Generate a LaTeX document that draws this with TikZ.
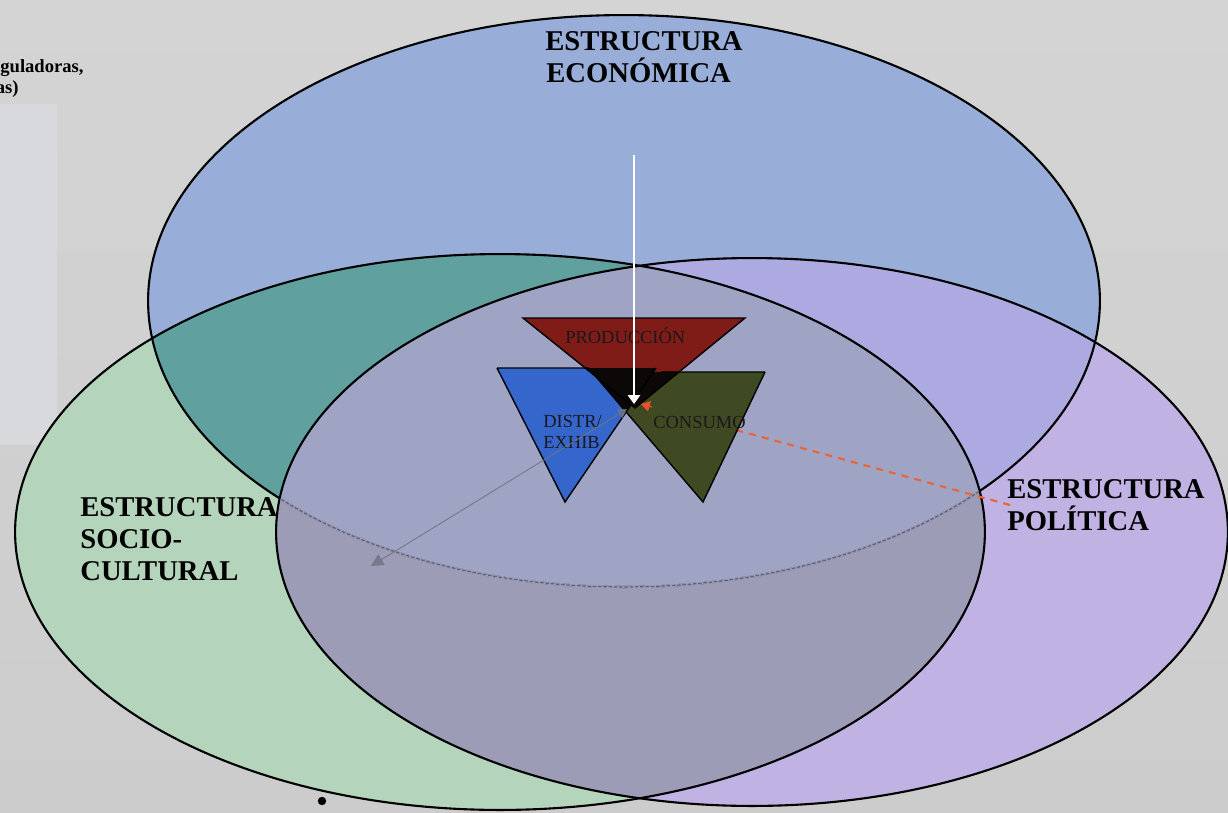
\documentclass[tikz,border=0pt]{standalone}
\usepackage{fontspec}
\setmainfont{Liberation Serif}
\usetikzlibrary{arrows.meta,calc}
\definecolor{bgtop}{RGB}{212,212,212}
\definecolor{bgbot}{RGB}{204,204,204}
\definecolor{leftrect}{RGB}{216,217,221}
\definecolor{cB}{RGB}{152,174,216}
\definecolor{cG}{RGB}{180,212,188}
\definecolor{cP}{RGB}{192,178,226}
\definecolor{cBG}{RGB}{96,160,158}
\definecolor{cBP}{RGB}{172,170,224}
\definecolor{cGP}{RGB}{156,156,182}
\definecolor{cBGP}{RGB}{160,164,196}
\definecolor{tRed}{RGB}{128,28,24}
\definecolor{tBlue}{RGB}{52,102,204}
\definecolor{tGreen}{RGB}{64,74,34}
\definecolor{tBlack}{RGB}{12,8,8}
\definecolor{tText}{RGB}{28,24,28}
\definecolor{dashRed}{RGB}{234,100,56}
\definecolor{arrGrey}{RGB}{112,116,130}
\definecolor{arcGrey}{RGB}{96,98,120}
\begin{document}
\begin{tikzpicture}[x=0.02cm,y=-0.02cm,
  outl/.style={draw=black,line width=1.2pt},
  lbl/.style={font=\fontsize{16.3}{18}\selectfont\bfseries,anchor=base west,inner sep=0pt},
  tlbl/.style={font=\fontsize{10.5}{12}\selectfont,anchor=base west,inner sep=0pt,text=tText},
  cornertxt/.style={font=\fontsize{10.6}{12}\selectfont\bfseries,anchor=base east,inner sep=0pt},
  tri/.style={draw=black,line width=0.8pt,line join=miter}]
\useasboundingbox (0,0) rectangle (1228,812);
\shade[top color=bgtop,bottom color=bgbot] (0,0) rectangle (1228,812);
\fill[leftrect] (0,104) rectangle (57,445);
% top-left partial text
\node[cornertxt] (tl1) at (84,72) {guladoras,};
\node[cornertxt] (tl2) at (19,93) {as)};
% region fills
\fill[cB] (624,301) ellipse [x radius=9.52cm, y radius=5.72cm];
\fill[cG] (500,532) ellipse [x radius=9.70cm, y radius=5.56cm];
\fill[cP] (752,532) ellipse [x radius=9.52cm, y radius=5.48cm];
\begin{scope}
  \clip (500,532) ellipse [x radius=9.70cm, y radius=5.56cm];
  \fill[cGP] (752,532) ellipse [x radius=9.52cm, y radius=5.48cm];
\end{scope}
\begin{scope}
  \clip (624,301) ellipse [x radius=9.52cm, y radius=5.72cm];
  \fill[cBG] (500,532) ellipse [x radius=9.70cm, y radius=5.56cm];
  \fill[cBP] (752,532) ellipse [x radius=9.52cm, y radius=5.48cm];
  \clip (500,532) ellipse [x radius=9.70cm, y radius=5.56cm];
  \fill[cBGP] (752,532) ellipse [x radius=9.52cm, y radius=5.48cm];
\end{scope}
% outlines
\draw[outl] (624,301) ellipse [x radius=9.52cm, y radius=5.72cm];
\draw[outl] (500,532) ellipse [x radius=9.70cm, y radius=5.56cm];
\draw[outl] (752,532) ellipse [x radius=9.52cm, y radius=5.48cm];
\begin{scope}
  \clip (500,532) ellipse [x radius=9.68cm, y radius=5.54cm];
  \clip (752,532) ellipse [x radius=9.50cm, y radius=5.46cm];
  \draw[cGP,line width=1.6pt] (624,301) ellipse [x radius=9.52cm, y radius=5.72cm];
  \draw[arcGrey,line width=0.7pt,dash pattern=on 2pt off 1pt] (624,301) ellipse [x radius=9.52cm, y radius=5.72cm];
\end{scope}
% labels of the structures
\node[lbl] (e1) at (545,50) {ESTRUCTURA};
\node[lbl] (e2) at (546,82) {ECONÓMICA};
\node[lbl] (s1) at (80,516) {ESTRUCTURA};
\node[lbl] (s2) at (80,548) {SOCIO-};
\node[lbl] (s3) at (80,580) {CULTURAL};
\node[lbl] (p1) at (1007,498) {ESTRUCTURA};
\node[lbl] (p2) at (1007,530) {POLÍTICA};
% connector coordinates
\coordinate (ctr) at (634,404);
\coordinate (topStart) at (634,155);
\coordinate (polStart) at (1010,505);
\coordinate (redTip) at (641,404);
\coordinate (redPre) at (652,407);
\coordinate (greyIn) at (627,409);
\coordinate (greyOut) at (371,566);
% dashed red connector (under triangles)
\draw[dashRed,line width=1.2pt,dash pattern=on 4pt off 3.5pt] (polStart) -- (redPre);
% triangles
\coordinate (r1) at (523,318); \coordinate (r2) at (745,318); \coordinate (r3) at (635,408);
\coordinate (b1) at (497,368); \coordinate (b2) at (656,368); \coordinate (b3) at (565,502);
\coordinate (g1) at (592,372); \coordinate (g2) at (765,372); \coordinate (g3) at (703,502);
\fill[tRed] (r1) -- (r2) -- (r3) -- cycle;
\fill[tBlue] (b1) -- (b2) -- (b3) -- cycle;
\fill[tGreen] (g1) -- (g2) -- (g3) -- cycle;
\begin{scope}
  \clip (r1) -- (r2) -- (r3) -- cycle;
  \fill[tBlack] (b1) -- (b2) -- (b3) -- cycle;
  \fill[tBlack] (g1) -- (g2) -- (g3) -- cycle;
\end{scope}
\begin{scope}
  \clip (b1) -- (b2) -- (b3) -- cycle;
  \fill[tBlack] (g1) -- (g2) -- (g3) -- cycle;
\end{scope}
\draw[tri] (r1) -- (r2) -- (r3) -- cycle;
\draw[tri] (b1) -- (b3) -- (b2);
\draw[tri] (g2) -- (g3) -- (g1);
\draw[tri] (b1) -- ($(b1)!0.58!(b2)$);
\draw[tri] (g2) -- ($(g2)!0.6!(g1)$);
% triangle labels
\node[tlbl] (prod) at (565,343) {PRODUCCIÓN};
\node[tlbl] (dist1) at (543,427) {DISTR/};
\node[tlbl] (dist2) at (543,448) {EXHIB};
\node[tlbl] (cons) at (653,428) {CONSUMO};
% arrows
\draw[white,line width=0.6pt,-{Triangle[length=5pt,width=7pt]}] (topStart) -- (ctr);
\draw[dashRed!80!red,line width=0.6pt,-{Triangle[length=5pt,width=6pt]}] (redPre) -- (redTip);
\draw[arrGrey,opacity=0.8,line width=0.6pt,{Triangle[length=5pt,width=6pt]}-{Triangle[length=7pt,width=7pt]}] (greyIn) -- (greyOut);
% small dot
\fill[black] (322,801) circle [radius=2.4pt];
\end{tikzpicture}
\end{document}
